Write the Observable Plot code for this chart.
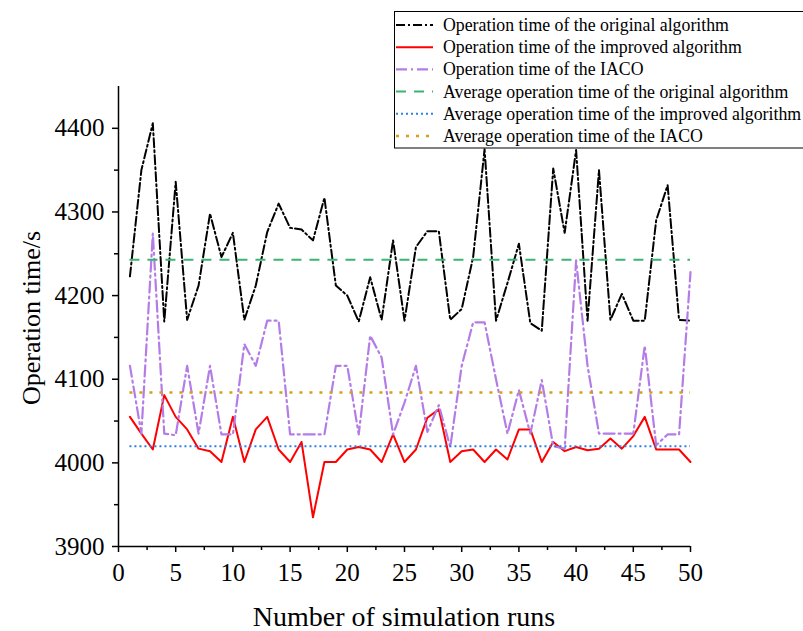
<!DOCTYPE html>
<html><head><meta charset="utf-8">
<script src="https://cdn.jsdelivr.net/npm/d3@7"></script>
<script src="https://cdn.jsdelivr.net/npm/@observablehq/plot@0.6"></script>
<style>body{margin:0;background:#fff;} #chart{width:803px;height:631px;overflow:hidden;}</style>
</head><body><div id="chart"></div>
<script>
const runs = d3.range(1, 51);
const original = [4223,4350,4406,4169,4336,4171,4212,4298,4246,4275,
  4171,4212,4276,4310,4281,4279,4266,4317,4212,4200,
  4169,4222,4171,4266,4170,4258,4277,4277,4171,4184,
  4246,4375,4170,4215,4262,4167,4158,4352,4275,4374,
  4170,4350,4171,4202,4170,4170,4290,4332,4171,4170];
const improved = [4055,4035,4016,4081,4055,4040,4017,4014,4001,4055,
  4001,4040,4055,4016,4001,4025,3935,4001,4001,4016,
  4019,4016,4001,4034,4001,4016,4054,4064,4001,4014,
  4016,4001,4016,4004,4040,4040,4001,4025,4014,4019,
  4015,4017,4029,4017,4032,4055,4016,4016,4016,4001];
const iaco = [4116,4035,4274,4035,4033,4116,4035,4116,4034,4034,
  4142,4116,4170,4170,4034,4034,4034,4034,4116,4116,
  4034,4152,4126,4034,4072,4116,4037,4069,4019,4116,
  4168,4168,4100,4035,4087,4035,4099,4020,4017,4242,
  4116,4035,4035,4035,4035,4140,4021,4034,4034,4228];
const avgOriginal = 4243;
const avgImproved = 4020;
const avgIACO = 4084;
const yTicks = [3900, 4000, 4100, 4200, 4300, 4400];
const yMinor = [3950, 4050, 4150, 4250, 4350];
const xTicks = [0, 5, 10, 15, 20, 25, 30, 35, 40, 45, 50];
const xMinor = [2.5, 7.5, 12.5, 17.5, 22.5, 27.5, 32.5, 37.5, 42.5, 47.5];
const legendLabels = [
  "Operation time of the original algorithm",
  "Operation time of the improved algorithm",
  "Operation time of the IACO",
  "Average operation time of the original algorithm",
  "Average operation time of the improved algorithm",
  "Average operation time of the IACO"
];
const xTitle = "Number of simulation runs";
const yTitle = "Operation time/s";

const styles = [
  {stroke: "#000000", dash: "9,3,2,3", width: 2},
  {stroke: "#ff0000", dash: null, width: 2},
  {stroke: "#b47ce6", dash: "11,4,2,4", width: 2.2},
  {stroke: "#3cb371", dash: "10,8", width: 2},
  {stroke: "#2f7fe0", dash: "2,3", width: 2},
  {stroke: "#d4a017", dash: "3,7", width: 2.5}
];

const rows = runs.map((r, i) => ({run: r, original: original[i], improved: improved[i], iaco: iaco[i]}));
const font = "'Liberation Serif','Times New Roman',serif";
const fmt = d3.format("d");

const chart = Plot.plot({
  width: 803, height: 631,
  marginLeft: 118, marginRight: 113, marginTop: 86, marginBottom: 85,
  x: {domain: [0, 50]},
  y: {domain: [3900, 4450]},
  style: {fontFamily: font, background: "white", color: "black", overflow: "visible"},
  marks: [
    Plot.axisY({ticks: yTicks, tickFormat: fmt, tickSize: 6, tickPadding: 8, fontSize: 25, label: null, strokeWidth: 1.5}),
    Plot.axisY({ticks: yMinor, tickSize: 4, fill: "none", label: null, strokeWidth: 1.5}),
    Plot.axisX({ticks: xTicks, tickFormat: fmt, tickSize: 6, tickPadding: 11, fontSize: 25, label: null, strokeWidth: 1.5}),
    Plot.axisX({ticks: xMinor, tickSize: 4, fill: "none", label: null, strokeWidth: 1.5}),
    Plot.ruleX([0], {strokeWidth: 1.5}),
    Plot.ruleY([3900], {strokeWidth: 1.5}),
    Plot.line(rows, {x: "run", y: "original", stroke: styles[0].stroke, strokeWidth: styles[0].width, strokeDasharray: styles[0].dash}),
    Plot.line(rows, {x: "run", y: "improved", stroke: styles[1].stroke, strokeWidth: styles[1].width}),
    Plot.line(rows, {x: "run", y: "iaco", stroke: styles[2].stroke, strokeWidth: styles[2].width, strokeDasharray: styles[2].dash}),
    Plot.ruleY([avgOriginal], {x1: runs[0], x2: runs[runs.length - 1], stroke: styles[3].stroke, strokeWidth: styles[3].width, strokeDasharray: styles[3].dash}),
    Plot.ruleY([avgImproved], {x1: runs[0], x2: runs[runs.length - 1], stroke: styles[4].stroke, strokeWidth: styles[4].width, strokeDasharray: styles[4].dash}),
    Plot.ruleY([avgIACO], {x1: runs[0], x2: runs[runs.length - 1], stroke: styles[5].stroke, strokeWidth: styles[5].width, strokeDasharray: styles[5].dash})
  ]
});
document.getElementById("chart").appendChild(chart);

const svg = d3.select(chart);
// axis titles
svg.append("text").attr("x", 404).attr("y", 626).attr("text-anchor", "middle")
  .attr("font-family", font).attr("font-size", 28).attr("fill", "black").text(xTitle);
svg.append("text").attr("transform", "translate(40,318) rotate(-90)").attr("text-anchor", "middle")
  .attr("font-family", font).attr("font-size", 26).attr("fill", "black").text(yTitle);

// legend
const lg = svg.append("g").attr("text-anchor", "start");
lg.append("rect").attr("x", 394.5).attr("y", 11.5).attr("width", 420).attr("height", 136.5)
  .attr("fill", "white").attr("stroke", "black").attr("stroke-width", 1);
legendLabels.forEach((label, i) => {
  const y = 25 + i * 22.2;
  const s = styles[i];
  const ln = lg.append("line").attr("x1", 396).attr("x2", 433).attr("y1", y).attr("y2", y)
    .attr("stroke", s.stroke).attr("stroke-width", s.width);
  if (s.dash) ln.attr("stroke-dasharray", s.dash);
  lg.append("text").attr("x", 443).attr("y", y + 6).attr("text-anchor", "start").attr("font-family", font)
    .attr("font-size", 17.8).attr("fill", "black").text(label);
});
</script>
</body></html>
